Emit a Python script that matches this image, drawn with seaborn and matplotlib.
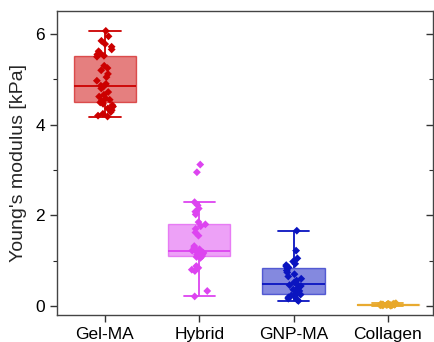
import numpy as np
import pandas as pd
import matplotlib
matplotlib.use('Agg')
import matplotlib.pyplot as plt
import seaborn as sns
from matplotlib.ticker import MultipleLocator
from matplotlib.colors import to_rgba

# Young's modulus values (kPa)
groups = ['Gel-MA', 'Hybrid', 'GNP-MA', 'Collagen']
gel_ma = [6.07, 5.95, 5.85, 5.78, 5.72, 5.66, 5.62, 5.58, 5.55, 5.52, 5.50,
          5.30, 5.25, 5.20, 5.12, 5.05, 4.97, 4.90, 4.86, 4.84, 4.80, 4.72,
          4.66, 4.62, 4.58, 4.55, 4.52, 4.49, 4.46, 4.43, 4.40, 4.36, 4.32,
          4.28, 4.24, 4.20, 4.18]
hybrid = [3.12, 2.95, 2.29, 2.22, 2.15, 2.08, 2.02, 1.85, 1.80, 1.76, 1.70,
          1.62, 1.55, 1.32, 1.28, 1.25, 1.22, 1.20, 1.19, 1.18, 1.17, 1.16,
          1.14, 1.13, 1.10, 1.08, 1.06, 0.88, 0.84, 0.80, 0.77, 0.33, 0.21]
gnp_ma = [1.66, 1.22, 1.05, 0.98, 0.93, 0.90, 0.87, 0.85, 0.83, 0.78, 0.74,
          0.70, 0.65, 0.60, 0.56, 0.52, 0.48, 0.46, 0.44, 0.42, 0.39, 0.36,
          0.33, 0.30, 0.26, 0.25, 0.24, 0.23, 0.21, 0.19, 0.16, 0.13, 0.11]
collagen = [0.06, 0.05, 0.045, 0.04, 0.04, 0.035, 0.035, 0.03, 0.03, 0.03,
            0.03, 0.025, 0.025, 0.02, 0.02, 0.02, 0.015, 0.01, 0.01, 0.005]

colors = ['#CC0000', '#DD44F0', '#0A14C0', '#E8A82A']

df = pd.DataFrame({
    'group': np.repeat(groups, [len(gel_ma), len(hybrid), len(gnp_ma), len(collagen)]),
    'E': gel_ma + hybrid + gnp_ma + collagen,
})

sns.set_style('ticks')
plt.rcParams['font.family'] = ['Liberation Sans', 'DejaVu Sans']

fig = plt.figure(figsize=(4.34, 3.42), dpi=100)
ax = fig.add_axes([0.131, 0.079, 0.867, 0.889])

sns.boxplot(data=df, x='group', y='E', hue='group', palette=colors, order=groups,
            width=0.66, whis=1.5, showfliers=False, linewidth=1.2, ax=ax, legend=False)

# light transparent fill, solid coloured edges, coloured whiskers/medians
for patch, c in zip(ax.patches, colors):
    patch.set_facecolor(to_rgba(c, 0.5))
    patch.set_edgecolor(to_rgba(c, 0.6))
    patch.set_linewidth(1.0)
for i, c in enumerate(colors):
    for line in ax.lines[i * 5:(i + 1) * 5]:
        line.set_color(c)
        line.set_linewidth(1.3)

np.random.seed(3)
sns.stripplot(data=df, x='group', y='E', hue='group', palette=colors, order=groups,
              marker='D', size=4, jitter=0.09, linewidth=0, zorder=5, ax=ax, legend=False)

ax.set_xlim(-0.51, 3.48)
ax.set_ylim(-0.2, 6.51)
ax.yaxis.set_major_locator(MultipleLocator(2))
ax.yaxis.set_minor_locator(MultipleLocator(1))
ax.set_xlabel('')
ax.set_ylabel("Young's modulus [kPa]", fontsize=14, labelpad=6)
ax.tick_params(axis='both', labelsize=12.5, colors='#333333', labelcolor='black')
ax.tick_params(axis='y', which='major', length=5, width=1)
ax.tick_params(axis='y', which='minor', length=3, width=0.8, left=True)
ax.tick_params(axis='x', length=5, width=1)

# mirrored inward ticks on the right side
ax2 = ax.secondary_yaxis('right')
ax2.yaxis.set_major_locator(MultipleLocator(2))
ax2.yaxis.set_minor_locator(MultipleLocator(1))
ax2.tick_params(which='major', direction='in', length=5, width=1, labelright=False, colors='#333333')
ax2.tick_params(which='minor', direction='in', length=3, width=0.8, colors='#333333')
ax2.spines['right'].set_visible(False)

for s in ax.spines.values():
    s.set_visible(True)
    s.set_color('#444444')
    s.set_linewidth(1.0)

fig.savefig('out.png', dpi=100)
